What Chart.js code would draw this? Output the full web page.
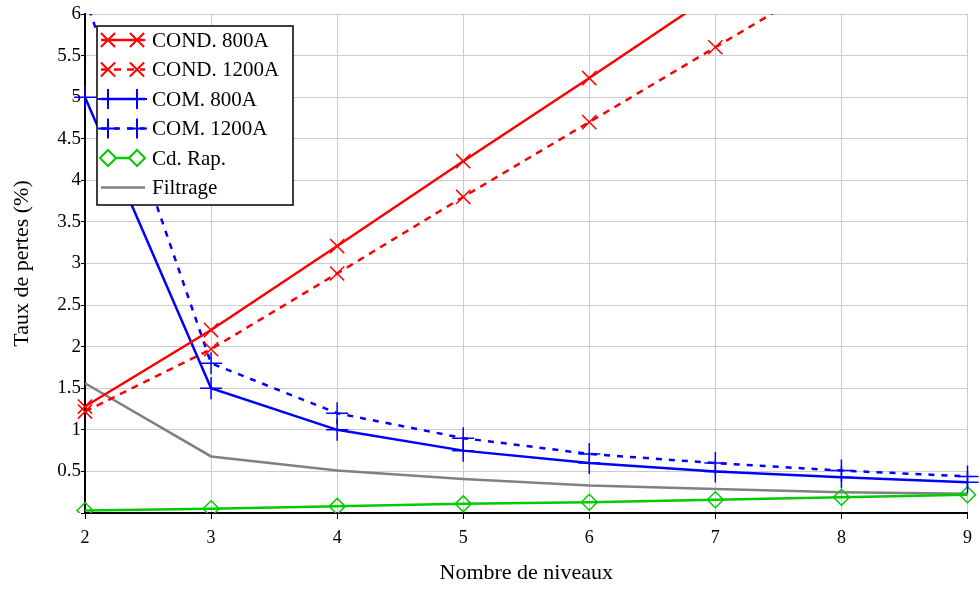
<!DOCTYPE html>
<html>
<head>
<meta charset="utf-8">
<script src="https://cdn.jsdelivr.net/npm/chart.js@4/dist/chart.umd.min.js"></script>
<style>
  html, body { margin: 0; padding: 0; background: #fff; }
  #wrap { width: 980px; height: 589px; }
</style>
</head>
<body>
<div id="wrap"><canvas id="chart"></canvas></div>
<script>
// niveaux et taux de pertes (%)
const levels = ["2", "3", "4", "5", "6", "7", "8", "9"];
const cond800 = [1.28, 2.2, 3.21, 4.23, 5.23, 6.25, 7.25, 8.25];
const cond1200 = [1.22, 1.97, 2.88, 3.8, 4.7, 5.6, 6.5, 7.4];
const com800 = [5.0, 1.5, 1.0, 0.75, 0.6, 0.5, 0.43, 0.37];
const com1200 = [6.2, 1.8, 1.2, 0.9, 0.71, 0.6, 0.51, 0.44];
const cdRap = [0.03, 0.05, 0.08, 0.11, 0.13, 0.16, 0.19, 0.22];
const filtrage = [1.56, 0.68, 0.51, 0.41, 0.33, 0.29, 0.25, 0.23];
const yTicks = [0.5, 1, 1.5, 2, 2.5, 3, 3.5, 4, 4.5, 5, 5.5, 6];

const serif = "'Liberation Serif', 'Times New Roman', serif";

// legende encadree dans la zone du graphe
const boxLegend = {
  id: "boxLegend",
  afterDraw(chart) {
    const ctx = chart.ctx;
    const area = chart.chartArea;
    const x0 = area.left + 12, y0 = area.top + 12;
    const w = 196, rowH = 29.5;
    const sets = chart.data.datasets;
    ctx.save();
    ctx.fillStyle = "#fff";
    ctx.fillRect(x0, y0, w, rowH * sets.length + 2);
    ctx.strokeStyle = "#000";
    ctx.lineWidth = 1.5;
    ctx.strokeRect(x0, y0, w, rowH * sets.length + 2);
    sets.forEach((ds, i) => {
      const cy = y0 + 14 + i * rowH;
      ctx.strokeStyle = ds.borderColor;
      ctx.lineWidth = ds.borderWidth;
      ctx.setLineDash(ds.borderDash || []);
      ctx.beginPath();
      ctx.moveTo(x0 + 4, cy);
      ctx.lineTo(x0 + 48, cy);
      ctx.stroke();
      ctx.setLineDash([]);
      if (ds.pointRadius > 0) {
        ctx.fillStyle = "#fff";
        ctx.lineWidth = 2;
        [x0 + 11, x0 + 40].forEach(px => {
          Chart.helpers.drawPoint(ctx, {
            pointStyle: ds.pointStyle, rotation: 0,
            radius: ds.legendRadius, borderWidth: 2
          }, px, cy);
        });
      }
      ctx.fillStyle = "#000";
      ctx.font = "21px " + serif;
      ctx.textBaseline = "middle";
      ctx.fillText(ds.label, x0 + 55, cy + 1);
    });
    ctx.restore();
  }
};

const ctx = document.getElementById("chart");
const chart = new Chart(ctx, {
  type: "line",
  data: {
    labels: levels,
    datasets: [
      { label: "COND. 800A", data: cond800, borderColor: "#ff0000", borderWidth: 2.5,
        pointStyle: "crossRot", pointRadius: 10, legendRadius: 10, pointBorderWidth: 1.5 },
      { label: "COND. 1200A", data: cond1200, borderColor: "#ff0000", borderWidth: 2.5, borderDash: [7, 6],
        pointStyle: "crossRot", pointRadius: 10, legendRadius: 10, pointBorderWidth: 1.5 },
      { label: "COM. 800A", data: com800, borderColor: "#0000ff", borderWidth: 2.5,
        pointStyle: "cross", pointRadius: 11, legendRadius: 10, pointBorderWidth: 1.5 },
      { label: "COM. 1200A", data: com1200, borderColor: "#0000ff", borderWidth: 2.5, borderDash: [6, 7],
        pointStyle: "cross", pointRadius: 11, legendRadius: 10, pointBorderWidth: 1.5 },
      { label: "Cd. Rap.", data: cdRap, borderColor: "#00cc00", borderWidth: 2.5,
        pointStyle: "rectRot", pointRadius: 8, legendRadius: 8, pointBorderWidth: 1.5,
        pointBackgroundColor: "rgba(255,255,255,0)" },
      { label: "Filtrage", data: filtrage, borderColor: "#808080", borderWidth: 2.5,
        pointRadius: 0, legendRadius: 0 }
    ]
  },
  options: {
    responsive: true,
    maintainAspectRatio: false,
    animation: false,
    layout: { padding: { top: 14, right: 10, left: 0, bottom: 0 } },
    plugins: {
      legend: { display: false },
      tooltip: { enabled: false }
    },
    scales: {
      x: {
        type: "category",
        offset: false,
        afterFit: s => { s.height = 76; },
        grid: { color: "#cccccc", tickColor: "#000", tickLength: 6 },
        border: { color: "#000", width: 2 },
        ticks: { color: "#000", font: { family: serif, size: 18 }, padding: 8, maxRotation: 0 },
        title: { display: true, text: "Nombre de niveaux", color: "#000",
                 font: { family: serif, size: 22 }, padding: { top: 0, bottom: 3 } }
      },
      y: {
        min: 0,
        max: 6,
        afterFit: s => { s.width = 85; },
        afterBuildTicks: s => { s.ticks = [0].concat(yTicks).map(v => ({ value: v })); },
        grid: { color: "#cccccc", tickColor: "#000", tickLength: 4 },
        border: { color: "#000", width: 2 },
        ticks: {
          color: "#000", font: { family: serif, size: 19 }, padding: 0,
          callback: v => (v === 0 ? "" : v)
        },
        title: { display: true, text: "Taux de pertes (%)", color: "#000",
                 font: { family: serif, size: 22 }, padding: { top: 9, bottom: 0 } }
      }
    }
  },
  plugins: [boxLegend]
});
</script>
</body>
</html>
